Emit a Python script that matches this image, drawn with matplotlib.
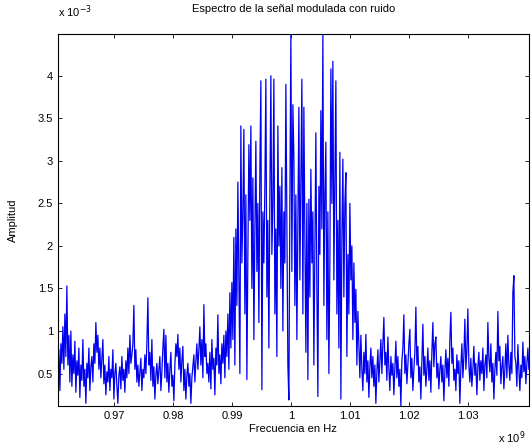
import matplotlib
matplotlib.use('Agg')
import matplotlib.pyplot as plt
import numpy as np
from matplotlib.ticker import FuncFormatter

# amplitude values, in units of 1e-3
amp_left = [
    0.45, 0.78, 0.30, 0.85, 0.62, 1.05, 0.55, 1.20, 0.70, 1.53,
    0.60, 0.95, 0.40, 1.00, 0.35, 0.72, 0.50, 0.88, 0.28, 0.65,
    0.48, 0.80, 0.22, 0.60, 0.42, 0.90, 0.35, 0.55, 0.15, 0.62,
    0.45, 0.80, 0.30, 0.58, 0.70, 0.40, 0.85, 0.62, 1.10, 0.75,
    0.95, 0.55, 0.80, 0.45, 0.68, 0.90, 0.38, 0.60, 0.25, 0.52,
    0.40, 0.70, 0.30, 0.55, 0.45, 0.78, 0.20, 0.50, 0.62, 0.35,
    0.15, 0.48, 0.58, 0.32, 0.70, 0.42, 0.55, 0.28, 0.65, 0.45,
    0.80, 0.50, 0.95, 0.62, 0.72, 0.85, 1.30, 0.55, 0.78, 0.40,
    0.60, 0.35, 0.52, 0.68, 0.30, 0.55, 0.45, 0.72, 0.50, 0.85,
    1.39, 0.60, 0.75, 0.42, 0.90, 0.35, 0.58, 0.20, 0.48, 0.62,
    0.38, 0.55, 0.70, 0.30, 0.52, 0.80, 1.02, 0.45, 0.95, 0.40,
    0.62, 0.28, 0.55, 0.75, 0.35, 0.48, 0.18, 0.60, 0.85, 0.70,
    0.96, 0.55, 0.80, 0.40, 0.65, 0.82, 0.30, 0.55, 0.20, 0.48,
    0.62, 0.35, 0.50, 0.15, 0.45, 0.58, 0.72, 0.40, 0.65, 0.85,
    0.55, 0.78, 1.05, 0.60, 0.90, 0.45, 1.31, 0.70, 0.85, 0.50,
    0.62, 0.40, 0.75, 0.32, 0.90, 0.55, 0.68, 0.25, 0.80, 0.60,
    1.19, 0.50, 0.72, 0.38, 0.85, 0.62, 0.95, 0.45, 1.00, 0.70,
    1.20, 0.55, 1.45, 0.80,
]

amp_band = [
    1.57, 0.90, 2.10, 0.60, 2.20, 1.30, 2.75, 1.60, 0.50, 3.41,
    1.80, 2.40, 3.37, 1.20, 2.60, 0.43, 1.90, 3.19, 2.30, 3.41,
    1.50, 2.80, 0.90, 2.20, 3.23, 1.70, 2.50, 1.10, 2.90, 3.94,
    0.31, 2.40, 1.80, 2.70, 3.96, 1.40, 2.30, 0.80, 2.60, 4.00,
    1.90, 2.50, 3.96, 1.20, 2.20, 0.70, 3.41, 2.00, 2.70, 1.50,
    2.92, 1.00, 2.40, 1.80, 3.90, 2.20, 0.60, 0.19, 2.50, 4.49,
    1.70, 3.66, 3.06, 1.30, 2.60, 0.90, 2.30, 3.63, 1.60, 2.80,
    3.96, 1.20, 3.63, 2.10, 0.75, 2.50, 0.43, 2.55, 1.40, 2.90,
    1.80, 2.40, 0.60, 2.00, 3.33, 1.50, 0.23, 2.70, 1.90, 3.59,
    2.20, 4.49, 1.30, 2.60, 3.22, 0.90, 2.40, 0.50, 1.80, 4.08,
    2.50, 4.17, 1.60, 2.80, 3.94, 1.20, 2.30, 0.80, 3.10, 0.20,
    2.10, 3.02, 1.40, 2.50, 2.86, 0.70, 1.90, 1.20, 2.50, 1.60,
]

amp_right = [
    2.00, 0.90, 1.80, 1.10, 1.49, 0.60, 1.23, 0.85, 0.45, 0.95,
    0.55, 0.30, 0.75, 0.50, 0.96, 0.40, 0.65, 0.22, 0.58, 0.80,
    0.45, 0.70, 0.35, 0.60, 0.15, 0.52, 0.78, 0.40, 0.65, 0.90,
    0.50, 0.85, 1.16, 0.60, 0.75, 0.42, 0.93, 0.55, 0.30, 0.70,
    0.48, 0.62, 0.25, 0.58, 0.88, 0.45, 0.70, 0.35, 0.55, 0.12,
    0.65, 0.80, 1.19, 0.50, 0.72, 0.38, 0.60, 0.85, 1.02, 0.45,
    0.68, 0.30, 0.55, 0.75, 1.28, 0.60, 0.82, 0.40, 0.58, 0.20,
    0.62, 1.08, 0.48, 0.70, 0.35, 0.55, 0.80, 0.42, 0.65, 0.28,
    0.75, 1.10, 0.58, 0.85, 0.93, 0.45, 0.62, 0.32, 0.55, 0.70,
    0.40, 0.60, 0.18, 0.52, 0.78, 0.45, 0.68, 0.35, 0.90, 1.22,
    0.62, 0.80, 0.42, 0.55, 0.30, 0.72, 0.50, 0.65, 0.15, 0.58,
    0.85, 0.45, 0.70, 1.14, 0.55, 0.78, 1.26, 0.60, 0.40, 0.68,
    0.35, 0.55, 0.82, 0.48, 0.62, 0.25, 0.58, 0.75, 0.42, 0.65,
    0.50, 0.80, 0.30, 0.60, 0.72, 0.45, 1.10, 0.68, 0.52, 0.85,
    0.40, 0.62, 0.20, 0.55, 0.75, 0.48, 1.23, 0.65, 0.82, 0.38,
    0.58, 0.70, 0.32, 0.55, 0.85, 0.45, 0.95, 0.60, 0.42, 0.75,
    0.50, 1.45, 1.65, 0.70, 0.62, 0.35, 0.84, 0.55, 0.30, 0.60,
    0.45, 0.87, 0.52, 0.70, 0.38, 0.62, 0.80, 0.55,
]

f_start = 0.9605e9
f_end = 1.0403e9
xticks = [0.97e9, 0.98e9, 0.99e9, 1.0e9, 1.01e9, 1.02e9, 1.03e9]
yticks = [0.5e-3, 1e-3, 1.5e-3, 2e-3, 2.5e-3, 3e-3, 3.5e-3, 4e-3]

amp = np.array(amp_left + amp_band + amp_right) * 1e-3
freq = np.linspace(f_start, f_end, len(amp))

plt.rcParams['font.family'] = ['Liberation Sans', 'DejaVu Sans']
fig = plt.figure(figsize=(5.31, 4.48), dpi=100)
ax = fig.add_axes([0.109, 0.094, 0.887, 0.830])
ax.plot(freq, amp, color='#0000ee', linewidth=0.9)

ax.set_xlim(f_start, f_end)
ax.set_ylim(amp.min(), amp.max())
ax.set_xticks(xticks)
ax.set_yticks(yticks)
ax.xaxis.set_major_formatter(FuncFormatter(lambda v, p: f'{v / 1e9:g}'))
ax.yaxis.set_major_formatter(FuncFormatter(lambda v, p: f'{v / 1e-3:g}'))
ax.tick_params(direction='in', top=True, right=True, labelsize=8, length=3, width=0.6)
for s in ax.spines.values():
    s.set_linewidth(0.8)

ax.set_title('Espectro de la señal modulada con ruido', fontsize=8, pad=16)
ax.set_xlabel('Frecuencia en Hz', fontsize=8, labelpad=2)
ax.set_ylabel('Amplitud', fontsize=8, labelpad=14)
fig.text(0.109, 0.955, r'x 10$^{-3}$', fontsize=8, ha='left', va='bottom')
fig.text(0.99, 0.005, r'x 10$^{9}$', fontsize=8, ha='right', va='bottom')

fig.savefig('out.png', dpi=100)
